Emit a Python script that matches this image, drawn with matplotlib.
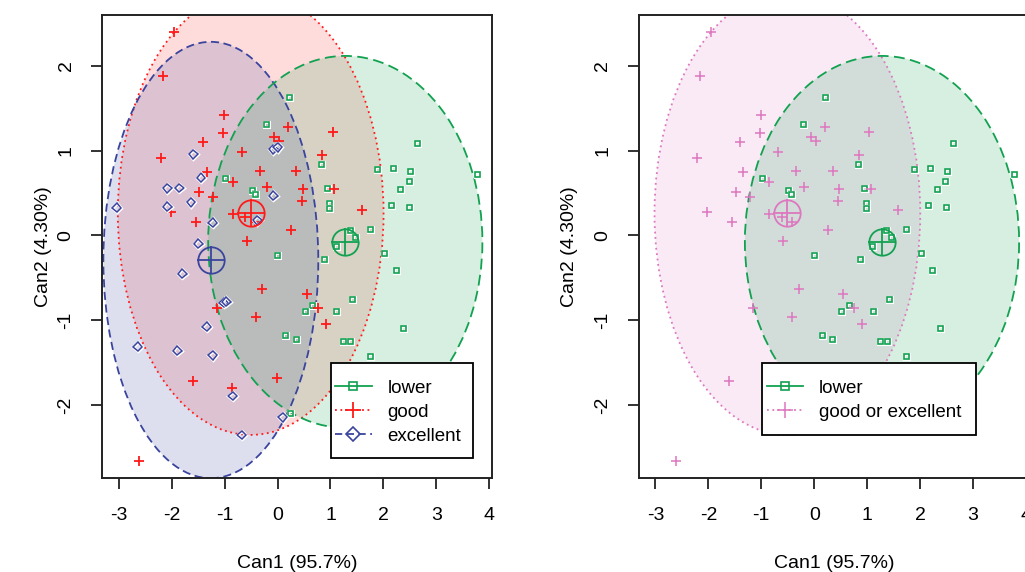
import matplotlib
matplotlib.use("Agg")
import matplotlib.pyplot as plt
from matplotlib.patches import Ellipse, Rectangle
from matplotlib.lines import Line2D
import matplotlib.patheffects as pe
import numpy as np

plt.rcParams['font.family'] = ['Liberation Sans', 'DejaVu Sans']

# ---------------- data (canonical scores) ----------------
lower_x = [0.217, -0.204, 2.64, 0.835, 1.885, 2.2, 2.52, 3.774, -0.979, -0.48, -0.425,
           -0.004, 2.484, 2.327, 0.948, 0.99, 0.98, 2.157, 2.49, 1.747, 1.369, 1.464,
           1.105, 0.878, 2.03, 2.238, 1.42, 0.657, 0.519, 1.118, 2.377, 0.16, 0.35,
           1.243, 1.383, 1.747, 0.236]
lower_y = [1.628, 1.313, 1.078, 0.839, 0.78, 0.787, 0.75, 0.72, 0.673, 0.524, 0.485,
           -0.23, 0.634, 0.544, 0.556, 0.379, 0.312, 0.359, 0.327, 0.073, 0.057, -0.026,
           -0.124, -0.277, -0.218, -0.418, -0.752, -0.827, -0.897, -0.897, -1.093, -1.176,
           -1.223, -1.254, -1.254, -1.428, -2.094]

good_x = [-1.955, -2.157, -1.005, -1.023, -1.40, -2.21, -0.676, 0.204, -0.066, 0.028,
          -1.34, -0.34, 0.35, 1.043, 0.847, -0.847, -1.477, -1.213, -0.193, -2.018,
          -1.545, -0.846, -0.614, 0.255, -0.582, -0.287, -1.149, -0.412, 0.475, 1.073,
          0.457, 1.59, 0.551, 0.759, 0.91, -1.603, -0.866, -0.004, -2.616, -0.42]
good_y = [2.40, 1.879, 1.419, 1.203, 1.105, 0.909, 0.983, 1.282, 1.157, 1.117,
          0.75, 0.765, 0.755, 1.215, 0.948, 0.634, 0.516, 0.457, 0.571, 0.28,
          0.163, 0.253, 0.222, 0.065, -0.065, -0.634, -0.85, -0.96, 0.548, 0.548,
          0.406, 0.30, -0.685, -0.85, -1.046, -1.71, -1.793, -1.678, -2.656, 0.16]

excellent_x = [-1.59, -0.08, 0.0, -1.445, -2.08, -1.855, -1.634, -2.08, -3.04, -1.225,
               -0.079, -0.38, -1.50, -1.80, -1.02, -0.97, -1.337, -2.64, -1.893, -1.224,
               -0.846, 0.097, -0.676]
excellent_y = [0.956, 1.015, 1.04, 0.681, 0.556, 0.559, 0.39, 0.339, 0.328, 0.151,
               0.469, 0.18, -0.096, -0.45, -0.79, -0.78, -1.074, -1.31, -1.357, -1.411,
               -1.89, -2.14, -2.35]

# group means and ellipse semi-axes (Can1, Can2)
centers = {'lower': (1.28, -0.075), 'good': (-0.507, 0.261), 'excellent': (-1.26, -0.289)}
semi_axes = {'lower': (2.59, 2.19), 'good': (2.51, 2.61), 'excellent': (2.03, 2.57)}

xticks = [-3, -2, -1, 0, 1, 2, 3, 4]
yticks = [-2, -1, 0, 1, 2]
xlabel = 'Can1 (95.7%)'
ylabel = 'Can2 (4.30%)'

# ---------------- styles ----------------
GREEN = '#12a150'
RED = '#ff1a1a'
BLUE = '#3a449e'
PINK = '#dd77bf'
FS = 14

W, H = 1025, 572
fig = plt.figure(figsize=(W / 100, H / 100), dpi=100)
ax_h = 463.3
ax_w = 390.0
bottom = 1 - 478.3 / H
ax1 = fig.add_axes([102.3 / W, bottom, ax_w / W, ax_h / H])
ax2 = fig.add_axes([639.0 / W, bottom, ax_w / W, ax_h / H])

halo = [pe.withStroke(linewidth=2.2, foreground='white')]


def draw_ellipse(ax, key, color, alpha, ls, lw=1.3):
    cx, cy = centers[key]
    a, b = semi_axes[key]
    ax.add_patch(Ellipse((cx, cy), 2 * a, 2 * b, facecolor=color, alpha=alpha,
                         edgecolor='none', zorder=1))
    ax.add_patch(Ellipse((cx, cy), 2 * a, 2 * b, facecolor='none', edgecolor=color,
                         linestyle=ls, linewidth=lw, zorder=2))


def draw_center(ax, key, color):
    cx, cy = centers[key]
    ax.plot([cx], [cy], marker='o', ms=19, mfc='none', mec=color, mew=1.3, zorder=5)
    ax.plot([cx], [cy], marker='+', ms=20, mec=color, mew=1.3, zorder=5)


def style_axes(ax, ylabelpad):
    ax.set_xlim(-3.31, 4.057)
    ax.set_ylim(-2.86, 2.597)
    ax.set_xticks(xticks)
    ax.set_yticks(yticks)
    ax.set_xticklabels([str(t) for t in xticks], fontsize=FS)
    ax.set_yticklabels([str(t) for t in yticks], fontsize=FS, rotation=90, va='center')
    ax.tick_params(direction='out', length=8, width=1.3, color='#222222')
    ax.tick_params(axis='x', pad=13)
    ax.tick_params(axis='y', pad=12)
    for s in ax.spines.values():
        s.set_linewidth(1.4)
        s.set_color('#222222')
    ax.set_xlabel(xlabel, fontsize=FS, labelpad=22)
    ax.set_ylabel(ylabel, fontsize=FS, labelpad=ylabelpad)


def make_legend(ax, handles, labels, anchor, box):
    bx, by, bw, bh = box
    ax.add_patch(Rectangle((bx, by), bw, bh, transform=ax.transAxes, facecolor='white',
                           edgecolor='black', linewidth=1.3, zorder=9, clip_on=False))
    leg = ax.legend(handles, labels, loc='upper left', bbox_to_anchor=anchor,
                    fontsize=13.5, frameon=False, borderpad=0, handlelength=1.95,
                    handletextpad=0.85, labelspacing=0.38, borderaxespad=0)
    leg.set_zorder(10)
    return leg


# ---------------- left panel ----------------
draw_ellipse(ax1, 'good', RED, 0.15, (0, (1, 2)))
draw_ellipse(ax1, 'excellent', BLUE, 0.17, (0, (4.5, 2.5)))
draw_ellipse(ax1, 'lower', GREEN, 0.17, (0, (6, 3)))

ax1.plot(lower_x, lower_y, ls='none', marker='s', ms=3.6, mfc='none', mec=GREEN,
         mew=1.2, zorder=4, path_effects=halo)
ax1.plot(good_x, good_y, ls='none', marker='+', ms=7, mec=RED, mew=1.3, zorder=4)
ax1.plot(excellent_x, excellent_y, ls='none', marker='D', ms=4.5, mfc='none', mec=BLUE,
         mew=1.1, zorder=4, path_effects=halo)
draw_center(ax1, 'lower', GREEN)
draw_center(ax1, 'good', RED)
draw_center(ax1, 'excellent', BLUE)
style_axes(ax1, 4)

h1 = [Line2D([], [], color=GREEN, ls='-', lw=1.3, marker='s', ms=6, mfc='none', mew=1.2),
      Line2D([], [], color=RED, ls=(0, (1, 2)), lw=1.3, marker='+', ms=11, mew=1.3),
      Line2D([], [], color=BLUE, ls=(0, (4, 2.5)), lw=1.3, marker='D', ms=7, mfc='none', mew=1.2)]
make_legend(ax1, h1, ['lower', 'good', 'excellent'], (0.5967, 0.2135),
            (0.5856, 0.0432, 0.3641, 0.205))

# ---------------- right panel ----------------
draw_ellipse(ax2, 'good', PINK, 0.15, (0, (1, 2)))
draw_ellipse(ax2, 'lower', GREEN, 0.17, (0, (6, 3)))
ax2.plot(lower_x, lower_y, ls='none', marker='s', ms=3.6, mfc='none', mec=GREEN,
         mew=1.2, zorder=4, path_effects=halo)
ax2.plot(good_x, good_y, ls='none', marker='+', ms=7, mec=PINK, mew=1.1, zorder=4)
draw_center(ax2, 'lower', GREEN)
draw_center(ax2, 'good', PINK)
style_axes(ax2, 12)

h2 = [Line2D([], [], color=GREEN, ls='-', lw=1.3, marker='s', ms=6, mfc='none', mew=1.2),
      Line2D([], [], color=PINK, ls=(0, (1, 2)), lw=1.3, marker='+', ms=11, mew=1.1)]
make_legend(ax2, h2, ['lower', 'good or excellent'], (0.3274, 0.2135),
            (0.3146, 0.0935, 0.5487, 0.1548))

fig.savefig('out.png', dpi=100, facecolor='white')
